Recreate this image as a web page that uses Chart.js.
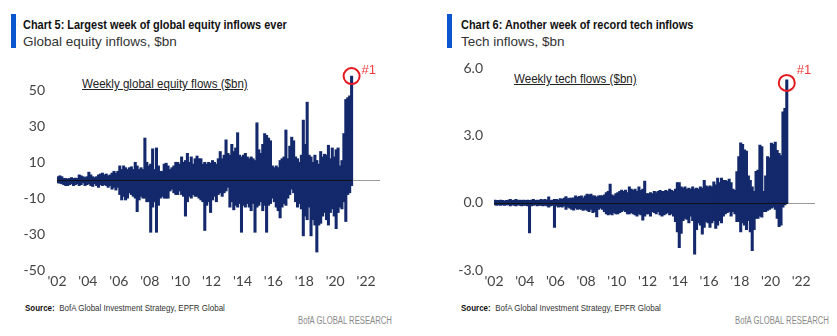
<!DOCTYPE html>
<html>
<head>
<meta charset="utf-8">
<script src="https://cdn.jsdelivr.net/npm/chart.js@4.4.1/dist/chart.umd.min.js"></script>
<style>
  body { margin: 0; width: 837px; height: 336px; background: #fff; position: relative; overflow: hidden;
         font-family: "Liberation Sans", sans-serif; }
  .abs { position: absolute; white-space: nowrap; line-height: 1; transform-origin: 0 50%; }
  .bar { background: #0b55cf; width: 5px; height: 34px; top: 14px; }
  .title { font-weight: bold; font-size: 13.5px; color: #111; top: 18px; transform: scaleX(0.81); }
  .sub { font-size: 13.5px; color: #333; top: 35px; }
  .inner { font-size: 13px; color: #222; text-decoration: underline; transform: scaleX(0.89); }
  .src { font-size: 9.5px; color: #333; top: 303px; transform: scaleX(0.84); }
  .src b { color: #111; }
  .brand { font-size: 10px; color: #8a8a8a; top: 316px; transform: scaleX(0.77); }
  canvas { position: absolute; }
</style>
</head>
<body>

<div class="abs bar" style="left:11px"></div>
<div class="abs title" style="left:23px">Chart 5: Largest week of global equity inflows ever</div>
<div class="abs sub" style="left:23px">Global equity inflows, $bn</div>
<div class="abs inner" style="left:82px;top:77px">Weekly global equity flows ($bn)</div>
<div class="abs src" style="left:25px"><b>Source:</b>&nbsp; BofA Global Investment Strategy, EPFR Global</div>
<div class="abs brand" style="left:298px">BofA GLOBAL RESEARCH</div>

<div class="abs bar" style="left:447px"></div>
<div class="abs title" style="left:461px">Chart 6: Another week of record tech inflows</div>
<div class="abs sub" style="left:461px">Tech inflows, $bn</div>
<div class="abs inner" style="left:514px;top:72px">Weekly tech flows ($bn)</div>
<div class="abs src" style="left:461px"><b>Source:</b>&nbsp; BofA Global Investment Strategy, EPFR Global</div>
<div class="abs brand" style="left:735px">BofA GLOBAL RESEARCH</div>

<canvas id="equity" width="400" height="255" style="left:0;top:45px;width:400px;height:255px"></canvas>
<canvas id="tech" width="415" height="262" style="left:420px;top:38px;width:415px;height:262px"></canvas>

<script>
// each value is the highest inflow week / deepest outflow week in a 1/8-year slice
const startYear = 2002
const slicesPerYear = 8

const equityIn = [
  2, 2.5, 2, 1, 1, 0.8, 1, 1.5,
  1, 1.2, 1, 3, 2.5, 2, 1.5, 2,
  4.5, 3, 2, 1.5, 2, 3, 3.5, 4,
  3, 3.5, 2.5, 3, 4, 5, 4, 5,
  8, 6, 8, 7, 6, 7, 7.5, 6,
  10, 8, 6, 7, 6, 23.5, 10, 8,
  9, 17.5, 6, 18, 8, 5, 5, 9,
  9.5, 8, 6, 7, 8, 10, 10, 9,
  13, 10, 11, 15, 10, 13, 9, 12,
  13.5, 12, 12, 9, 10, 9, 10, 9.5,
  11, 10, 9, 12, 16, 12, 14, 22.5,
  15, 14, 20, 16, 18, 26.5, 14, 13,
  14, 15, 13, 12, 13, 12, 11, 32,
  17, 15, 20, 26, 25, 23.5, 22, 8,
  7, 8, 7, 11, 12, 13, 28, 12,
  19, 24, 22, 13, 12, 10, 14, 33.5,
  20, 43.5, 14, 13, 10, 14, 11, 9,
  16, 13, 14.5, 14, 19.5, 12, 18, 13,
  17, 18, 8, 11, 26, 45, 46, 47,
  58
]
const equityOut = [
  -1.5, -1.7, -2, -2.5, -3, -3, -2.5, -2,
  -3, -2.5, -2, -3, -2.5, -1.5, -3, -2.5,
  -2, -3, -3.5, -2, -3, -4, -2.5, -3,
  -2.5, -3, -4, -3, -5, -4, -5.5, -4,
  -8, -11, -9, -11, -10, -7, -8, -9,
  -10, -17.5, -11, -9, -10, -10, -12, -12,
  -29, -15, -12, -29, -14, -10, -9, -10,
  -10, -10, -6, -5, -7, -8, -8, -6,
  -8, -9, -20, -12, -9, -10, -8, -9,
  -9, -10, -11, -12, -28, -14, -12, -18,
  -11, -9, -12, -8, -7, -9, -7, -6,
  -4, -15, -12, -16.5, -14, -15, -13, -29,
  -14, -15, -13, -15, -17, -13, -29, -15,
  -14, -12, -17, -14, -29, -14, -13, -10,
  -12, -15, -17, -21, -15, -13, -14, -10,
  -8, -5, -7, -12, -15, -13, -16, -31,
  -20, -22, -15, -31, -22, -25, -40, -25,
  -24, -20, -18, -22, -25, -18, -16, -20,
  -27, -18, -15, -16, -12, -23, -8, -7,
  -3
]

const techIn = [
  0.12, 0.1, 0.1, 0.12, 0.1, 0.08, 0.1, 0.12,
  0.15, 0.1, 0.12, 0.15, 0.1, 0.12, 0.1, 0.12,
  0.1, 0.12, 0.1, 0.12, 0.15, 0.1, 0.12, 0.1,
  0.15, 0.12, 0.15, 0.12, 0.26, 0.1, 0.12, 0.15,
  0.15, 0.12, 0.18, 0.15, 0.2, 0.27, 0.18, 0.2,
  0.2, 0.22, 0.3, 0.25, 0.28, 0.3, 0.22, 0.3,
  0.38, 0.35, 0.38, 0.3, 0.3, 0.25, 0.3, 0.32,
  0.3, 0.35, 0.45, 0.5, 0.83, 0.35, 0.3, 0.4,
  0.45, 0.5, 0.56, 0.5, 0.56, 0.45, 0.7, 0.6,
  0.55, 0.6, 0.5, 0.7, 0.55, 0.6, 0.96, 0.4,
  0.4, 0.45, 0.4, 0.5, 0.45, 0.5, 0.55, 0.5,
  0.5, 0.55, 0.5, 0.6, 0.55, 0.5, 0.6, 0.9,
  0.9, 0.7, 0.65, 0.7, 0.6, 0.65, 0.6, 0.7,
  0.6, 0.65, 0.6, 0.7, 0.65, 1.0, 0.75, 0.7,
  0.75, 0.7, 0.93, 0.8, 1.1, 0.9, 1.1, 1.0,
  1.0, 0.95, 1.05, 0.9, 0.6, 0.55, 1.38, 2.05,
  2.67, 2.6, 2.35, 2.3, 1.2, 1.0, 0.7, 0.5,
  1.4, 1.45, 2.57, 2.5, 0.5, 1.2, 2.05, 2.0,
  2.65, 2.6, 2.7, 2.33, 2.2, 2.1, 4.05, 4.2,
  5.47
]
const techOut = [
  -0.1, -0.12, -0.1, -0.12, -0.1, -0.12, -0.1, -0.1,
  -0.15, -0.1, -0.12, -0.15, -0.1, -0.12, -0.15, -0.12,
  -0.12, -0.15, -1.35, -0.15, -0.12, -0.1, -0.15, -0.12,
  -0.12, -0.15, -0.12, -0.15, -0.2, -0.15, -0.12, -1.1,
  -0.15, -0.2, -0.18, -0.2, -0.15, -0.3, -0.2, -0.25,
  -0.3, -0.33, -0.25, -0.3, -0.28, -0.3, -0.35, -0.3,
  -0.35, -0.4, -0.3, -0.45, -0.4, -0.63, -0.3, -0.25,
  -0.3, -0.4, -0.5, -0.55, -0.5, -0.55, -0.45, -0.5,
  -0.5, -0.45, -0.4, -0.35, -0.4, -0.5, -0.5, -0.45,
  -0.5, -0.55, -0.6, -0.5, -0.55, -0.78, -0.6, -0.5,
  -0.5, -0.6, -0.4, -0.45, -0.5, -0.4, -0.55, -0.6,
  -0.55, -0.5, -0.45, -0.55, -0.5, -0.6, -0.85, -1.3,
  -2.0, -1.37, -0.8, -0.7, -0.75, -0.9, -0.6, -0.8,
  -2.3, -1.2, -0.9, -1.0, -1.4, -1.1, -0.85, -0.9,
  -1.1, -0.9, -0.8, -1.15, -1.0, -0.8, -0.9, -0.6,
  -0.5, -0.45, -0.4, -0.6, -0.4, -0.5, -0.85, -0.85,
  -1.3, -0.9, -1.0, -1.2, -0.8, -1.3, -2.14, -1.2,
  -0.7, -0.7, -0.6, -0.65, -0.4, -0.4, -0.35, -0.3,
  -0.25, -0.2, -0.3, -0.7, -1.07, -1.0, -0.2, -0.1,
  -0.05
]

const yearTicks = [2002, 2004, 2006, 2008, 2010, 2012, 2014, 2016, 2018, 2020, 2022]
const equityTicks = [-50, -30, -10, 10, 30, 50]
const techTicks = [-3, 0, 3, 6]

const navy = '#13296b'

// middle of each slice, in years
const sliceYear = (i) => startYear + (i + 0.5) / slicesPerYear

// zero line (dark over the data, grey after it), red ring round the record week and its "#1"
const markers = {
  id: 'markers',
  afterDatasetsDraw(chart, args, o) {
    const { ctx, chartArea, scales: { x, y } } = chart
    const ins = chart.data.datasets[0].data
    const y0 = Math.round(y.getPixelForValue(0)) + 0.5
    const xFirst = x.getPixelForValue(ins[0].x) - 1
    const xLast = x.getPixelForValue(ins[ins.length - 1].x) + 1
    ctx.save()
    ctx.lineWidth = 1
    ctx.strokeStyle = '#9a9a9a'
    ctx.beginPath(); ctx.moveTo(xLast, y0); ctx.lineTo(chartArea.right, y0); ctx.stroke()
    ctx.strokeStyle = '#111'
    ctx.beginPath(); ctx.moveTo(xFirst, y0); ctx.lineTo(xLast, y0); ctx.stroke()

    let top = ins[0]
    ins.forEach(p => { if (p.y > top.y) top = p })
    const cx = x.getPixelForValue(top.x)
    const cy = y.getPixelForValue(top.y) + o.ringDy
    ctx.strokeStyle = '#e3191f'
    ctx.lineWidth = 2
    ctx.beginPath(); ctx.arc(cx, cy, 8, 0, Math.PI * 2); ctx.stroke()
    ctx.fillStyle = '#ef3b3b'
    ctx.font = '13px "Liberation Sans", sans-serif'
    ctx.textBaseline = 'middle'
    ctx.fillText('#1', cx + 10, cy + o.labelDy)
    ctx.restore()
  }
}

const makeChart = (id, ins, outs, yMin, yMax, yTicks, fmt, yWidth, yPad, padTop, ringDy, labelDy) => {
  const toPoints = arr => arr.map((v, i) => ({ x: sliceYear(i), y: v }))
  const bars = (arr) => ({
    data: toPoints(arr),
    backgroundColor: navy,
    borderWidth: 0,
    barThickness: 2.4,
    grouped: false
  })
  return new Chart(document.getElementById(id), {
    type: 'bar',
    data: { datasets: [bars(ins), bars(outs)] },
    options: {
      responsive: false,
      animation: false,
      events: [],
      layout: { padding: { top: padTop, right: 20, left: 0, bottom: 0 } },
      plugins: {
        legend: { display: false },
        tooltip: { enabled: false },
        markers: { ringDy: ringDy, labelDy: labelDy }
      },
      scales: {
        x: {
          type: 'linear',
          min: 2002,
          max: 2022.9,
          offset: false,
          grid: { display: false, drawTicks: false },
          border: { display: false },
          afterBuildTicks: s => { s.ticks = yearTicks.map(v => ({ value: v })) },
          afterFit: s => { s.height = 30 },
          ticks: {
            padding: 3,
            color: '#444',
            font: { family: 'Lato', size: 14 },
            maxRotation: 0,
            autoSkip: false,
            callback: v => "'" + String(v).slice(2)
          }
        },
        y: {
          min: yMin,
          max: yMax,
          grid: { display: false, drawTicks: false },
          border: { display: false },
          afterBuildTicks: s => { s.ticks = yTicks.map(v => ({ value: v })) },
          afterFit: s => { s.width = yWidth },
          ticks: {
            padding: yPad,
            color: '#444',
            font: { family: 'Lato', size: 14 },
            autoSkip: false,
            callback: fmt
          }
        }
      }
    },
    plugins: [markers]
  })
}

makeChart('equity', equityIn, equityOut, -50, 61.4, equityTicks, v => String(v), 57, 12, 25, 0, -6)
makeChart('tech', techIn, techOut, -3, 6.2, techTicks, v => v.toFixed(1), 74, 11, 25.5, 3, -12)
</script>
</body>
</html>
